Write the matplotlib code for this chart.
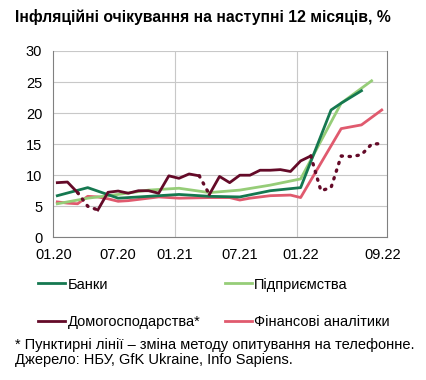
import matplotlib
matplotlib.use('Agg')
import matplotlib.pyplot as plt
import numpy as np

# month index: 0 = 01.20, 32 = 09.22
hh_months = list(range(33))
hh_values = [8.8, 8.9, 7.2, 5.0, 4.4, 7.25, 7.45, 7.1, 7.5, 7.5, 7.1, 9.9,
             9.5, 10.2, 9.9, 6.9, 9.8, 8.8, 10.0, 10.0, 10.8, 10.8, 10.9, 10.6,
             12.3, 13.1, 7.5, 8.0, 13.1, 13.0, 13.3, 15.0, 15.1]
# index ranges (inclusive) where the phone survey method applies -> dotted
hh_dotted = [(2, 4), (14, 15), (25, 32)]

bank_months = [0, 3, 6, 9, 12, 15, 18, 21, 24, 27, 28, 30]
bank_values = [6.7, 8.0, 6.3, 6.6, 6.9, 6.6, 6.5, 7.5, 8.0, 20.5, 21.6, 23.6]

ent_months = [0, 3, 6, 9, 12, 15, 18, 21, 24, 28, 31]
ent_values = [5.4, 6.3, 6.9, 7.6, 7.9, 7.2, 7.6, 8.4, 9.4, 21.6, 25.2]

fa_months = [0, 1, 2, 3, 4, 5, 6, 7, 8, 9, 10, 12, 15, 17, 18, 19, 21, 23,
             24, 28, 30, 32]
fa_values = [5.7, 5.5, 5.4, 6.6, 6.5, 6.2, 5.8, 5.9, 6.1, 6.3, 6.5, 6.3, 6.4,
             6.4, 6.0, 6.3, 6.7, 6.8, 6.4, 17.5, 18.1, 20.5]

tick_pos = [0, 6.4, 12, 18.4, 24.4, 32.5]
tick_labels = ['01.20', '07.20', '01.21', '07.21', '01.22', '09.22']

C_BANK = '#157850'
C_ENT = '#96cd78'
C_HH = '#640a28'
C_FA = '#e05a6e'
OFF = 0.4  # points sit mid-month

plt.rcParams['font.family'] = ['Liberation Sans', 'DejaVu Sans']

fig = plt.figure(figsize=(4.26, 3.8), dpi=100)
ax = fig.add_axes([0.125, 0.3755, 0.783, 0.4903])

lw = 2.0
ax.plot(np.array(fa_months) + OFF, fa_values, color=C_FA, lw=lw,
        label='Фінансові аналітики', zorder=3)
ax.plot(np.array(ent_months) + OFF, ent_values, color=C_ENT, lw=lw,
        label='Підприємства', zorder=4)
ax.plot(np.array(bank_months) + OFF, bank_values, color=C_BANK, lw=lw,
        label='Банки', zorder=5)

hx = np.array(hh_months) + OFF
hv = np.array(hh_values)
for a, b in hh_dotted:
    ax.plot(hx[a:b + 1], hv[a:b + 1], color=C_HH, lw=2.4, ls=(0, (0.4, 2.0)),
            dash_capstyle='round', zorder=6)
# solid pieces between dotted ranges
starts = [0] + [b for a, b in hh_dotted]
ends = [a for a, b in hh_dotted] + [len(hv) - 1]
first = True
for s, e in zip(starts, ends):
    if e > s:
        ax.plot(hx[s:e + 1], hv[s:e + 1], color=C_HH, lw=lw, zorder=6,
                label='Домогосподарства*' if first else None)
        first = False

ax.set_xlim(0, 32.9)
ax.set_ylim(0, 30)
ax.set_yticks(range(0, 31, 5))
ax.set_xticks(tick_pos)
ax.set_xticklabels(tick_labels)
ax.tick_params(axis='both', length=0, labelsize=10.5, colors='black')
ax.tick_params(axis='y', pad=8)
ax.tick_params(axis='x', pad=8)
ax.grid(True, axis='y', color='#c8c8c8', lw=0.8)
for xv in [12, 24]:
    ax.axvline(xv, color='#c8c8c8', lw=0.8, zorder=1)
for s in ax.spines.values():
    s.set_color('#808080')
    s.set_linewidth(0.8)
ax.spines['top'].set_visible(False)
ax.set_axisbelow(True)

handles, labels = ax.get_legend_handles_labels()
order = ['Банки', 'Домогосподарства*', 'Підприємства', 'Фінансові аналітики']
hmap = dict(zip(labels, handles))
fig.legend([hmap[k] for k in order], order, ncol=2, frameon=False,
           loc='upper left', bbox_to_anchor=(0.0765, 0.285),
           fontsize=10.5, handlelength=1.85, handletextpad=0.15,
           columnspacing=1.7, labelspacing=1.6, borderaxespad=0)

fig.text(0.035, 0.955, 'Інфляційні очікування на наступні 12 місяців, %',
         fontsize=11.3, fontweight='bold', va='center')
fig.text(0.035, 0.092, '* Пунктирні лінії – зміна методу опитування на телефонне.',
         fontsize=10.5, va='center')
fig.text(0.035, 0.052, 'Джерело: НБУ, GfK Ukraine, Info Sapiens.',
         fontsize=10.5, va='center')

fig.savefig('out.png', dpi=100)
